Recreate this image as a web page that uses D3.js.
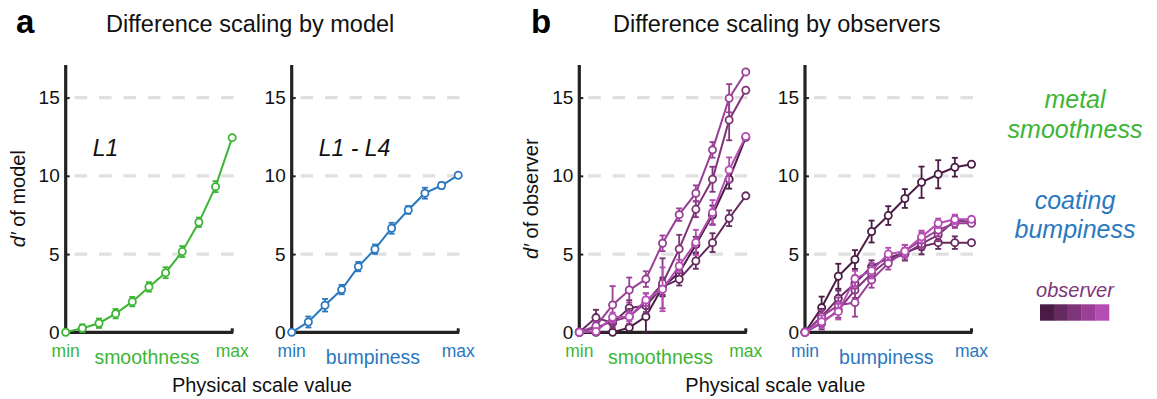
<!DOCTYPE html>
<html>
<head>
<meta charset="utf-8">
<script src="https://cdn.jsdelivr.net/npm/d3@7/dist/d3.min.js"></script>
<style>
    body { margin: 0; background: #fff; }
    text { font-family: "Liberation Sans", Arial, Helvetica, sans-serif; }
</style>
</head>
<body>
<svg id="chart"></svg>
<script>
// physical scale steps (min ... max)
const steps = [0, 1, 2, 3, 4, 5, 6, 7, 8, 9, 10]
const yTicks = [0, 5, 10, 15]
const gridTicks = [5, 10, 15]

// model d'
const modelL1 = [0, 0.26, 0.58, 1.19, 1.96, 2.9, 3.81, 5.16, 7.03, 9.31, 12.44]
const modelL1Err = [0, 0.25, 0.3, 0.3, 0.3, 0.3, 0.35, 0.35, 0.3, 0.35, 0.1]
const modelL1L4 = [0, 0.66, 1.73, 2.73, 4.2, 5.31, 6.65, 7.82, 8.89, 9.38, 10.04]
const modelL1L4Err = [0, 0.35, 0.4, 0.3, 0.3, 0.3, 0.35, 0.25, 0.35, 0.2, 0.1]

// observers, dark -> light
const observerColors = ['#4a1c45', '#652a60', '#7f357a', '#9a3f96', '#b54db4']

const obsSmooth = [
    [0, 0, 0, 0.3, 1.0, 2.9, 3.8, 5.6, 7.5, 9.78, 12.46],
    [0, 0.94, 0.6, 1.55, 1.7, 2.9, 3.39, 4.56, 5.73, 7.29, 8.72],
    [0, 0.3, 0.7, 1.0, 1.9, 3.13, 5.33, 7.86, 9.78, 13.57, 15.47],
    [0, 0.4, 1.75, 2.7, 3.4, 5.69, 7.52, 8.89, 11.66, 14.96, 16.64],
    [0, 0.05, 0.96, 1.0, 2.07, 2.75, 4.24, 5.75, 7.65, 10.38, 12.51],
]
const obsSmoothErr = [
    [0, 0.1, 0.1, 0.2, 1.0, 0.6, 0.4, 0.5, 0.6, 0.6, 0.1],
    [0, 0.5, 0.4, 0.5, 0.5, 0.5, 0.4, 0.5, 0.6, 0.5, 0.1],
    [0, 0.3, 0.4, 0.5, 0.6, 1.6, 0.9, 0.5, 0.8, 1.3, 0.1],
    [0, 0.3, 1.2, 0.8, 0.5, 0.5, 0.4, 0.5, 0.5, 0.9, 0.1],
    [0, 0.1, 0.3, 0.3, 0.4, 1.4, 0.4, 0.8, 0.8, 0.8, 0.1],
]
const obsBump = [
    [0, 1.58, 3.58, 4.65, 6.44, 7.46, 8.55, 9.59, 10.1, 10.55, 10.74],
    [0, 1.0, 2.17, 3.13, 4.2, 4.75, 5.09, 5.48, 5.73, 5.73, 5.73],
    [0, 0.58, 1.43, 2.7, 3.77, 4.62, 5.0, 5.65, 6.22, 7.14, 7.07],
    [0, 1.0, 1.73, 1.9, 3.35, 4.41, 5.18, 5.9, 6.54, 6.97, 6.97],
    [0, 0.68, 1.32, 3.43, 3.94, 5.0, 5.18, 6.1, 6.97, 7.22, 7.22],
]
const obsBumpErr = [
    [0, 0.7, 0.8, 0.6, 0.7, 0.6, 0.6, 1.0, 0.9, 0.6, 0.1],
    [0, 0.5, 0.5, 0.5, 0.4, 0.4, 0.5, 0.5, 0.4, 0.4, 0.1],
    [0, 0.4, 0.5, 0.5, 0.5, 0.4, 0.4, 0.4, 0.4, 0.3, 0.1],
    [0, 0.4, 0.5, 0.9, 0.5, 0.4, 0.4, 0.5, 0.4, 0.3, 0.1],
    [0, 0.4, 0.5, 0.5, 0.5, 0.4, 0.4, 0.4, 0.3, 0.3, 0.1],
]

const green = '#3db535'
const blue = '#2a78c0'

const dimensions = {
    width: 1157,
    height: 399,
    plotWidth: 166.5,
    yTop: 65,
}

const svg = d3.select('#chart')
    .attr('width', dimensions.width)
    .attr('height', dimensions.height)

const yScale = d3.scaleLinear()
    .domain([0, 17])
    .range([332.3, 66.3])

const panels = [
    { x0: 65.7, color: green, attr: 'smoothness', yLabel: 'of model', tag: 'L1',
      series: [{ values: modelL1, err: modelL1Err, color: green }] },
    { x0: 291.7, color: blue, attr: 'bumpiness', tag: 'L1 - L4',
      series: [{ values: modelL1L4, err: modelL1L4Err, color: blue }] },
    { x0: 579.3, color: green, attr: 'smoothness', yLabel: 'of observer',
      series: obsSmooth.map((v, i) => ({ values: v, err: obsSmoothErr[i], color: observerColors[i] })) },
    { x0: 805, color: blue, attr: 'bumpiness',
      series: obsBump.map((v, i) => ({ values: v, err: obsBumpErr[i], color: observerColors[i] })) },
]

panels.forEach(p => {
    const xScale = d3.scaleLinear()
        .domain(d3.extent(steps))
        .range([p.x0, p.x0 + dimensions.plotWidth])

    const g = svg.append('g')

    // dashed grid
    g.selectAll('.grid')
        .data(gridTicks)
        .enter().append('line')
        .attr('x1', p.x0 + 9)
        .attr('x2', xScale(10) + 4)
        .attr('y1', d => yScale(d))
        .attr('y2', d => yScale(d))
        .attr('stroke', '#e0e0e0')
        .attr('stroke-width', 3.2)
        .attr('stroke-dasharray', '12.5,11.9')

    // y axis
    const yAxis = g.append('g')
        .attr('transform', `translate(${p.x0},0)`)
        .call(d3.axisLeft(yScale).tickValues(yTicks).tickSize(-4).tickPadding(6))
    yAxis.select('.domain').remove()
    yAxis.selectAll('.tick line').attr('stroke', '#222').attr('stroke-width', 2)
    yAxis.selectAll('.tick text')
        .attr('font-size', 19)
        .attr('fill', '#111')
        .style('font-family', '"Liberation Sans", Arial, sans-serif')

    g.append('line')
        .attr('x1', p.x0).attr('x2', p.x0)
        .attr('y1', dimensions.yTop).attr('y2', yScale(0) + 1.5)
        .attr('stroke', '#222').attr('stroke-width', 3.2)
    g.append('line')
        .attr('x1', p.x0).attr('x2', xScale(10) + 1)
        .attr('y1', yScale(0)).attr('y2', yScale(0))
        .attr('stroke', '#222').attr('stroke-width', 3.2)
    g.append('line')
        .attr('x1', xScale(10)).attr('x2', xScale(10))
        .attr('y1', yScale(0)).attr('y2', yScale(0) - 4)
        .attr('stroke', '#222').attr('stroke-width', 3)

    // x labels
    g.append('text')
        .attr('x', xScale(0)).attr('y', 357)
        .attr('text-anchor', 'middle').attr('font-size', 17.5)
        .attr('fill', p.color).text('min')
    g.append('text')
        .attr('x', xScale(10)).attr('y', 357)
        .attr('text-anchor', 'middle').attr('font-size', 17.5)
        .attr('fill', p.color).text('max')
    g.append('text')
        .attr('x', xScale(5) - 2).attr('y', 364)
        .attr('text-anchor', 'middle').attr('font-size', 19.5)
        .attr('fill', p.color).text(p.attr)

    if (p.yLabel) {
        const yl = g.append('text')
            .attr('transform', `translate(${p.x0 - 41},${(yScale(0) + dimensions.yTop) / 2}) rotate(-90)`)
            .attr('text-anchor', 'middle')
            .attr('font-size', 20)
            .attr('fill', '#111')
        yl.append('tspan').attr('font-style', 'italic').text('d\u2032')
        yl.append('tspan').text(' ' + p.yLabel)
    }

    if (p.tag) {
        g.append('text')
            .attr('x', p.x0 + (p.tag.length > 2 ? 27 : 27))
            .attr('y', 156)
            .attr('font-size', 23)
            .attr('font-style', 'italic')
            .attr('fill', '#111')
            .text(p.tag)
    }

    const line = d3.line()
        .x((d, i) => xScale(steps[i]))
        .y(d => yScale(d))

    p.series.forEach(s => {
        const sg = g.append('g')
        sg.append('path')
            .attr('d', line(s.values))
            .attr('fill', 'none')
            .attr('stroke', s.color)
            .attr('stroke-width', 2)

        const bars = sg.selectAll('.err')
            .data(s.values.map((v, i) => ({ v, e: s.err[i], i })).filter(d => d.e > 0.15))
            .enter().append('g')
        bars.append('line')
            .attr('x1', d => xScale(steps[d.i])).attr('x2', d => xScale(steps[d.i]))
            .attr('y1', d => yScale(d.v - d.e)).attr('y2', d => yScale(d.v + d.e))
        bars.append('line')
            .attr('x1', d => xScale(steps[d.i]) - 3).attr('x2', d => xScale(steps[d.i]) + 3)
            .attr('y1', d => yScale(d.v - d.e)).attr('y2', d => yScale(d.v - d.e))
        bars.append('line')
            .attr('x1', d => xScale(steps[d.i]) - 3).attr('x2', d => xScale(steps[d.i]) + 3)
            .attr('y1', d => yScale(d.v + d.e)).attr('y2', d => yScale(d.v + d.e))
        bars.selectAll('line')
            .attr('stroke', s.color)
            .attr('stroke-width', 1.8)

        sg.selectAll('circle')
            .data(s.values)
            .enter().append('circle')
            .attr('cx', (d, i) => xScale(steps[i]))
            .attr('cy', d => yScale(d))
            .attr('r', 3.6)
            .attr('fill', '#fff')
            .attr('stroke', s.color)
            .attr('stroke-width', 1.8)
    })
})

// panel letters and titles
const heads = [
    { letter: 'a', lx: 16, title: 'Difference scaling by model', tx: 106 },
    { letter: 'b', lx: 531, title: 'Difference scaling by observers', tx: 613 },
]
heads.forEach(h => {
    svg.append('text')
        .attr('x', h.lx).attr('y', 33)
        .attr('font-size', 33).attr('font-weight', 'bold')
        .attr('fill', '#000').text(h.letter)
    svg.append('text')
        .attr('x', h.tx).attr('y', 32)
        .attr('font-size', 23.5)
        .attr('fill', '#111').text(h.title)
})

// shared x titles
const xTitles = [(65.7 + 458.2) / 2, (579.3 + 971.5) / 2]
xTitles.forEach(x => {
    svg.append('text')
        .attr('x', x).attr('y', 392)
        .attr('text-anchor', 'middle')
        .attr('font-size', 20)
        .attr('fill', '#111')
        .text('Physical scale value')
})

// legend
const legendLines = [
    { text: 'metal', y: 108, color: green },
    { text: 'smoothness', y: 138, color: green },
    { text: 'coating', y: 209, color: blue },
    { text: 'bumpiness', y: 238, color: blue },
]
svg.selectAll('.legend-line')
    .data(legendLines)
    .enter().append('text')
    .attr('x', 1075)
    .attr('y', d => d.y)
    .attr('text-anchor', 'middle')
    .attr('font-size', 25)
    .attr('font-style', 'italic')
    .attr('fill', d => d.color)
    .text(d => d.text)

svg.append('text')
    .attr('x', 1075).attr('y', 297)
    .attr('text-anchor', 'middle')
    .attr('font-size', 20)
    .attr('font-style', 'italic')
    .attr('fill', '#7f357a')
    .text('observer')

const swatch = d3.scaleBand()
    .domain(d3.range(observerColors.length))
    .range([1040, 1109])

svg.selectAll('.swatch')
    .data(observerColors)
    .enter().append('rect')
    .attr('x', (d, i) => swatch(i))
    .attr('y', 304.3)
    .attr('width', swatch.bandwidth() + 0.3)
    .attr('height', 16.4)
    .attr('fill', d => d)
</script>
</body>
</html>
